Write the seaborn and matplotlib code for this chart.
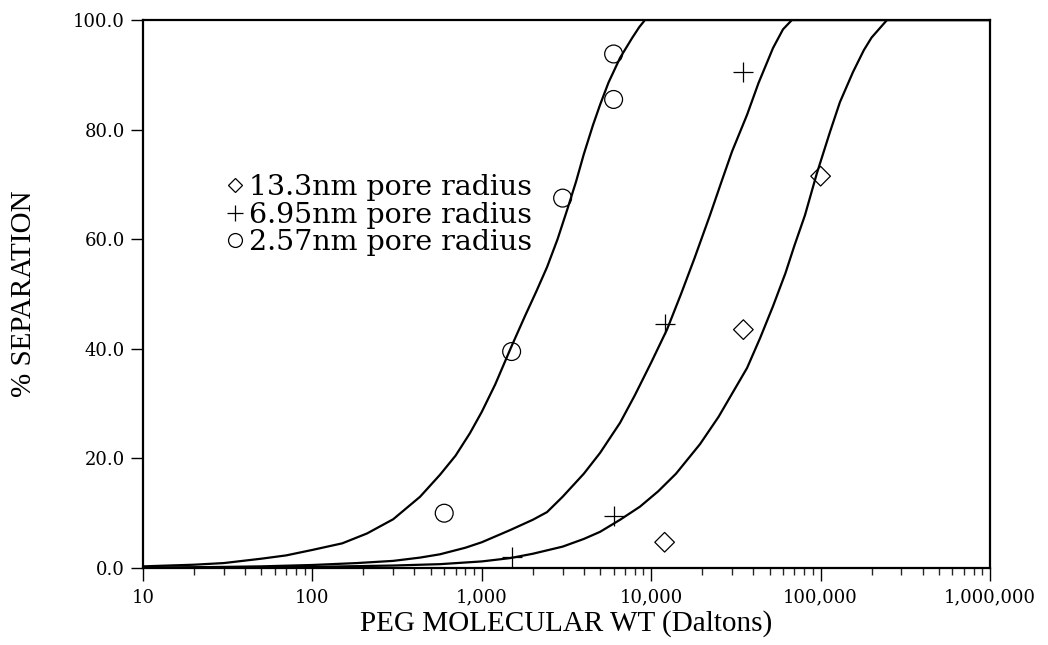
import matplotlib
matplotlib.use("Agg")
import matplotlib.pyplot as plt
import seaborn as sns
from matplotlib.lines import Line2D

# ---- data ----
# measured points
circle_x = [600, 1500, 3000, 6000, 6000]
circle_y = [10.0, 39.5, 67.5, 85.5, 93.8]
plus_x = [1500, 6000, 12000, 35000]
plus_y = [2.0, 9.5, 44.5, 90.5]
diamond_x = [12000, 35000, 100000]
diamond_y = [4.7, 43.5, 71.5]

# fitted curves
fit257_x = [10, 20, 30, 50, 70, 100, 150, 210, 300, 432, 566, 700, 851, 1000, 1200,
            1500, 1800, 2100, 2427, 2800, 3186, 3600, 4000, 4530, 5000, 5600, 6550,
            7710, 8500, 9190, 1000000]
fit257_y = [0.3, 0.6, 0.9, 1.7, 2.3, 3.3, 4.5, 6.3, 8.9, 13.0, 17.0, 20.5, 24.6, 28.5, 33.5,
            40.5, 46.0, 50.5, 54.9, 60.0, 65.3, 70.5, 75.5, 80.8, 84.6, 88.6, 93.1,
            96.7, 98.7, 100.0, 100.0]
fit695_x = [10, 30, 50, 100, 183, 300, 432, 566, 800, 1000, 1465, 2000, 2427, 3000, 4000,
            4990, 6550, 8000, 10000, 12390, 15000, 18000, 22240, 26000, 30000, 36800,
            43000, 52400, 60000, 67700, 1000000]
fit695_y = [0.05, 0.2, 0.3, 0.55, 0.9, 1.3, 1.9, 2.5, 3.7, 4.7, 6.9, 8.8, 10.2, 13.0, 17.2,
            21.0, 26.5, 31.5, 37.5, 43.5, 50.0, 56.5, 64.4, 70.5, 76.0, 82.7,
            88.5, 94.9, 98.3, 100.0, 100.0]
fit133_x = [10, 50, 100, 300, 566, 1000, 1465, 2000, 3000, 4000, 4990, 6550, 8590, 11000,
            14000, 19410, 25000, 30000, 36800, 44000, 52400, 62000, 70000, 80900, 95000,
            113700, 130000, 155300, 180000, 200000, 246600, 1000000]
fit133_y = [0.02, 0.1, 0.2, 0.45, 0.7, 1.2, 1.8, 2.6, 3.9, 5.3, 6.6, 8.8, 11.2, 14.0,
            17.2, 22.6, 27.6, 31.8, 36.5, 42.0, 47.8, 53.8, 58.8, 64.4, 72.0,
            79.6, 85.0, 90.5, 94.5, 96.8, 100.0, 100.0]

legend_labels = ["13.3nm pore radius", "6.95nm pore radius", "2.57nm pore radius"]
xtick_vals = [10, 100, 1000, 10000, 100000, 1000000]
xtick_labels = ["10", "100", "1,000", "10,000", "100,000", "1,000,000"]
ytick_vals = [0, 20, 40, 60, 80, 100]
ytick_labels = ["0.0", "20.0", "40.0", "60.0", "80.0", "100.0"]

sns.set_theme(style="ticks")
plt.rcParams["font.family"] = ["DejaVu Serif", "DejaVu Sans"]
plt.rcParams["text.color"] = "black"
plt.rcParams["axes.labelcolor"] = "black"

fig = plt.figure(figsize=(10.48, 6.45), dpi=100)
ax = fig.add_axes([143/1048, 1 - 568/645, (990-143)/1048, (568-20)/645])

for fx, fy in [(fit257_x, fit257_y), (fit695_x, fit695_y), (fit133_x, fit133_y)]:
    sns.lineplot(x=fx, y=fy, ax=ax, color="black", linewidth=1.6,
                 estimator=None, sort=False)

sns.scatterplot(x=circle_x, y=circle_y, ax=ax, marker="o", s=165,
                facecolors="none", edgecolor="black", linewidth=0.9, zorder=5)
sns.scatterplot(x=plus_x, y=plus_y, ax=ax, marker="+", s=200,
                color="black", linewidth=0.9, zorder=5)
sns.scatterplot(x=diamond_x, y=diamond_y, ax=ax, marker="D", s=100,
                facecolors="none", edgecolor="black", linewidth=0.9, zorder=5)

ax.set_xscale("log")
ax.set_xlim(10, 1000000)
ax.set_ylim(0, 100)
ax.set_xticks(xtick_vals)
ax.set_xticklabels(xtick_labels)
ax.set_yticks(ytick_vals)
ax.set_yticklabels(ytick_labels)
ax.tick_params(axis="both", which="major", labelsize=13, colors="black",
               direction="out", width=1.0)
ax.tick_params(axis="x", which="major", length=9, pad=6)
ax.tick_params(axis="y", which="major", length=9, pad=4)
ax.tick_params(axis="x", which="minor", length=5, width=1.0, direction="out")
ax.tick_params(axis="y", which="minor", left=False)

for sp in ax.spines.values():
    sp.set_visible(True)
    sp.set_color("black")
    sp.set_linewidth(1.6)

ax.set_xlabel("PEG MOLECULAR WT (Daltons)", family="Liberation Serif",
              fontsize=21, labelpad=2, color="black")
ax.set_ylabel("% SEPARATION", family="Liberation Serif",
              fontsize=21, labelpad=26, color="black")

handles = [
    Line2D([], [], linestyle="none", marker="D", markersize=7,
           markerfacecolor="none", markeredgecolor="black", markeredgewidth=0.9),
    Line2D([], [], linestyle="none", marker="+", markersize=11,
           color="black", markeredgewidth=0.9),
    Line2D([], [], linestyle="none", marker="o", markersize=10,
           markerfacecolor="none", markeredgecolor="black", markeredgewidth=0.9),
]
leg = ax.legend(handles, legend_labels, loc="upper left",
                bbox_to_anchor=(0.098, 0.719), frameon=False,
                prop={"family": "DejaVu Serif", "size": 20.5},
                handlelength=0.6, handletextpad=0.2, labelspacing=0.02,
                borderpad=0, borderaxespad=0)
for t in leg.get_texts():
    t.set_color("black")

fig.savefig("out.png", dpi=100)
